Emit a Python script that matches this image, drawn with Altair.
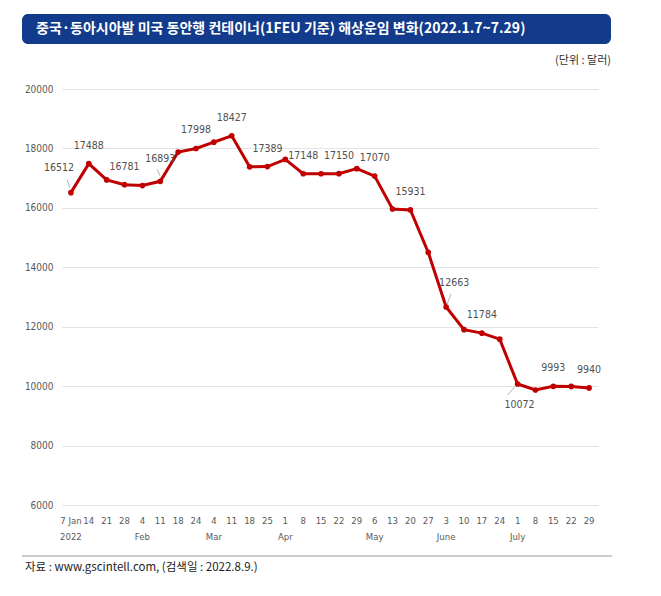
import altair as alt
import pandas as pd

title_text = "중국·동아시아발 미국 동안행 컨테이너(1FEU 기준) 해상운임 변화(2022.1.7~7.29)"
unit_text = "(단위 : 달러)"
source_text = "자료 : www.gscintell.com, (검색일 : 2022.8.9.)"

days = ["7 Jan", "14", "21", "28", "4", "11", "18", "24", "4", "11", "18", "25",
        "1", "8", "15", "22", "29", "6", "13", "20", "27", "3", "10", "17", "24",
        "1", "8", "15", "22", "29"]
months = ["2022", "", "", "", "Feb", "", "", "", "Mar", "", "", "", "Apr", "", "",
          "", "", "May", "", "", "", "June", "", "", "", "July", "", "", "", ""]
rates = [16512, 17488, 16940, 16781, 16750, 16893, 17880, 17998, 18210, 18427,
         17380, 17389, 17630, 17148, 17148, 17150, 17320, 17070, 15960, 15931,
         14500, 12663, 11900, 11784, 11580, 10072, 9870, 9993, 9990, 9940]
labeled = [0, 1, 3, 5, 7, 9, 11, 13, 15, 17, 19, 21, 23, 25, 27, 29]
y_ticks = [6000, 8000, 10000, 12000, 14000, 16000, 18000, 20000]

df = pd.DataFrame({
    "idx": list(range(len(rates))),
    "day": days,
    "month": months,
    "rate": rates,
})
df["lab"] = [str(r) if i in labeled else "" for i, r in enumerate(rates)]

days_js = "[" + ",".join('"%s"' % d for d in days) + "]"
months_js = "[" + ",".join('"%s"' % m for m in months) + "]"
label_expr = "[%s[datum.value], %s[datum.value]]" % (days_js, months_js)

AX_FONT = "'Liberation Sans Narrow', 'DejaVu Sans Condensed', 'Liberation Sans', sans-serif"
RED = "#C00000"
LEADER = "#A9B6C6"

x_enc = alt.X("idx:O", title=None,
              axis=alt.Axis(labelExpr=label_expr, labelAngle=0, ticks=False, domain=False,
                            grid=False, labelPadding=10, labelFontSize=9.5,
                            labelColor="#595959", labelFont=AX_FONT, labelLineHeight=16,
                            labelBaseline="top"))
y_enc = alt.Y("rate:Q", title=None,
              scale=alt.Scale(domain=[6000, 20000], nice=False, zero=False),
              axis=alt.Axis(values=y_ticks, format="d", ticks=False, domain=False, grid=True,
                            gridColor="#E3E3E3", gridWidth=1, labelPadding=9,
                            labelFontSize=10, labelColor="#595959", labelFont=AX_FONT))

base = alt.Chart(df)
line = base.mark_line(color=RED, strokeWidth=3).encode(x=x_enc, y=y_enc)
pts = base.mark_circle(color=RED, size=32, opacity=1).encode(x="idx:O", y="rate:Q")

lab_style = dict(font=AX_FONT, fontSize=10.5, color="#505050", baseline="middle", align="center")
normal = base.transform_filter(
    "datum.lab != '' && datum.idx != 0 && datum.idx != 5 && datum.idx != 21 && datum.idx != 25"
).mark_text(dy=-18, **lab_style).encode(x="idx:O", y="rate:Q", text="lab:N")
lab0 = base.transform_filter("datum.idx == 0").mark_text(dx=-12, dy=-25, **lab_style).encode(
    x="idx:O", y="rate:Q", text="lab:N")
lab5 = base.transform_filter("datum.idx == 5").mark_text(dy=-22, **lab_style).encode(
    x="idx:O", y="rate:Q", text="lab:N")
lab21 = base.transform_filter("datum.idx == 21").mark_text(dx=8, dy=-24, **lab_style).encode(
    x="idx:O", y="rate:Q", text="lab:N")
lab25 = base.transform_filter("datum.idx == 25").mark_text(dx=2, dy=21, **lab_style).encode(
    x="idx:O", y="rate:Q", text="lab:N")


def leader(i, ox1, oy1, ox2, oy2):
    return base.transform_filter("datum.idx == %d" % i).mark_rule(
        color=LEADER, strokeWidth=1, xOffset=ox1, yOffset=oy1, x2Offset=ox2, y2Offset=oy2
    ).encode(x="idx:O", y="rate:Q", x2=alt.X2("idx"), y2=alt.Y2("rate"))


leaders = [leader(0, -4, -13, -1, -5), leader(5, -3, -12, 0, -5),
           leader(21, 5, -13, 1, -3), leader(25, -3, 3, -10, 11)]

one = pd.DataFrame({"t": [title_text], "u": [unit_text], "s": [source_text]})
oc = alt.Chart(one)
bar = oc.mark_rect(color="#123B8B", cornerRadius=6).encode(
    x=alt.value(-40), x2=alt.value(549), y=alt.value(-75), y2=alt.value(-45))
title = oc.mark_text(color="white", font="Noto Sans CJK KR", fontWeight="bold", fontSize=14,
                     align="left", baseline="middle").encode(
    x=alt.value(-26), y=alt.value(-60), text="t:N")
unit = oc.mark_text(color="#333333", font="Noto Sans CJK KR", fontSize=11,
                    align="right", baseline="middle").encode(
    x=alt.value(549), y=alt.value(-28), text="u:N")
sep = oc.mark_rule(color="#9A9A9A", strokeWidth=1).encode(
    x=alt.value(-40), x2=alt.value(550), y=alt.value(467))
src = oc.mark_text(color="#222222", font="Noto Sans CJK KR", fontSize=11.5,
                   align="left", baseline="middle").encode(
    x=alt.value(-37), y=alt.value(479), text="s:N")

chart = alt.layer(line, pts, *leaders, normal, lab0, lab5, lab21, lab25,
                  bar, title, unit, sep, src).properties(
    width=536, height=416, autosize="none", background="white",
    padding={"left": 54, "top": 81, "right": 47, "bottom": 72},
).configure_view(stroke=None)

chart.save("out.html", embed_options={"renderer": "svg", "actions": False})
